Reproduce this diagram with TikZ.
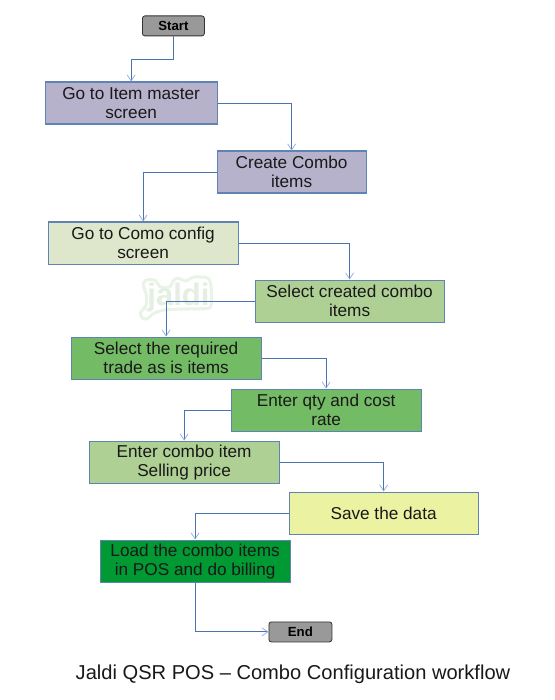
\documentclass[tikz,border=0pt]{standalone}
\usepackage{fontspec}
\setmainfont{Liberation Sans}
\usetikzlibrary{arrows.meta,positioning,calc}
\definecolor{lineblue}{HTML}{4A74AE}
\definecolor{tipblue}{HTML}{8FAADC}
\definecolor{boxedge}{HTML}{5F84B4}
\definecolor{wmgreen}{HTML}{EAF3E8}
\definecolor{wmtext}{HTML}{E4EFE1}
\definecolor{cpurple}{HTML}{B6B2CC}
\definecolor{cpale}{HTML}{DEE7CB}
\definecolor{csage}{HTML}{AFD095}
\definecolor{cmid}{HTML}{74BB66}
\definecolor{cyellow}{HTML}{EBF2A2}
\definecolor{cdark}{HTML}{009933}
\tikzset{
  x=1pt,y=-1pt,
  box/.style n args={3}{draw=boxedge,line width=1.2pt,inner sep=0pt,align=center,text=black!90,
    minimum width=#1pt,minimum height=#2pt,font=\fontsize{17.2pt}{19pt}\selectfont,fill=#3,anchor=north west},
  termbox/.style={draw=black!80,line width=0.8pt,rounded corners=2.5pt,fill=black!40,inner sep=0pt,
    font=\fontsize{13.2pt}{15pt}\selectfont\bfseries,anchor=north west},
  link/.style={draw=lineblue,line width=1pt,-{Straight Barb[length=6pt,width=8pt,color=tipblue,line width=0.7pt]}},
}
\begin{document}
\begin{tikzpicture}
\useasboundingbox (0.5,0.5) rectangle (554.5,700.5);
\fill[white] (0.5,0.5) rectangle (554.5,700.5);
\draw[wmgreen,line width=3pt,line join=round,rounded corners=4pt]
  (145,280) -- (157,280) -- (159,288) -- (172,288) -- (173,280) -- (180,278) -- (186,283) -- (193,277) -- (210,278) -- (212,290) -- (212,309) -- (165,310) -- (153,314) -- (147,321) -- (140,317) -- (142,310) -- (147,308) -- (147,293) -- (143,287) -- cycle;
\node[text=wmtext,font=\fontsize{31pt}{31pt}\selectfont\bfseries] (wm) at (179,298) {jaldi};
\node[termbox,minimum width=62pt,minimum height=20pt] (start) at (142.5,16) {Start};
\node[box={172}{42}{cpurple}] (item) at (45,82) {Go to Item master\\screen};
\node[box={149}{42}{cpurple}] (create) at (217,151) {Create Combo\\items};
\node[box={190}{42}{cpale}] (como) at (48,222) {Go to Como config\\screen};
\node[box={189}{42}{csage}] (sel) at (255,280) {Select created combo\\items};
\node[box={190}{42}{cmid}] (req) at (71,337) {Select the required\\trade as is items};
\node[box={190}{42}{cmid}] (qty) at (231,389) {Enter qty and cost\\rate};
\node[box={190}{42}{csage}] (combo) at (89,441) {Enter combo item\\Selling price};
\node[box={189}{42}{cyellow}] (save) at (289,492) {Save the data};
\node[box={190}{42}{cdark}] (load) at (100,540) {Load the combo items\\in POS and do billing};
\node[termbox,minimum width=63pt,minimum height=20pt] (end) at (269,622) {End};
\node[font=\fontsize{20.1pt}{22pt}\selectfont,text=black!90] (title) at (293.5,674.5) {Jaldi QSR POS – Combo Configuration workflow};
\draw[link] (start.south) -- ++(0,23) -| (item.north);
\draw[link] (item.east) -| (create.north);
\draw[link] (create.west) -| (como.north);
\draw[link] (como.east) -| (sel.north);
\draw[link] (sel.west) -| (req.north);
\draw[link] (req.east) -| (qty.north);
\draw[link] (qty.west) -| (combo.north);
\draw[link] (combo.east) -| (save.north);
\draw[link] (save.west) -| (load.north);
\draw[link] (load.south) |- (end.west);
\end{tikzpicture}
\end{document}
